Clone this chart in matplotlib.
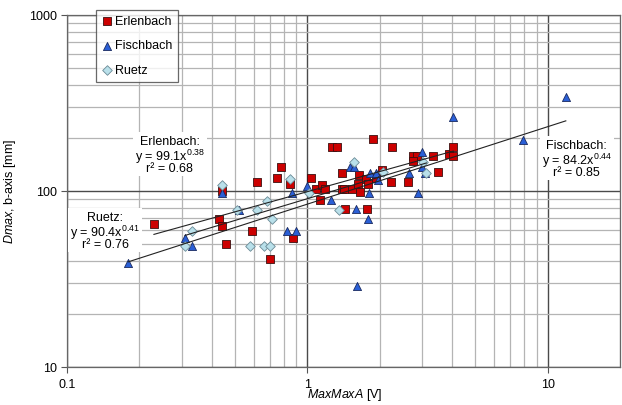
import numpy as np
import matplotlib
matplotlib.use("Agg")
import matplotlib.pyplot as plt
from matplotlib.patches import Rectangle
from matplotlib.ticker import LogLocator, FuncFormatter, NullFormatter
from matplotlib.transforms import offset_copy, IdentityTransform

plt.rcParams['font.family'] = ['Liberation Sans', 'DejaVu Sans']
plt.rcParams['mathtext.fontset'] = 'custom'
plt.rcParams['mathtext.rm'] = 'Liberation Sans'
plt.rcParams['mathtext.it'] = 'Liberation Sans:italic'

# Erlenbach
erl_x = [0.23, 0.43, 0.44, 0.44, 0.46, 0.59, 0.62, 0.70, 0.75, 0.78, 0.85, 0.87,
         1.04, 1.09, 1.15, 1.19, 1.13, 1.27, 1.33, 1.39, 1.39, 1.42, 1.44, 1.54,
         1.62, 1.64, 1.65, 1.75, 1.78, 1.77, 1.88, 1.93, 2.05, 2.22, 2.26, 2.63,
         2.75, 2.87, 2.75, 3.34, 3.49, 3.87, 4.03, 4.05]
erl_y = [65, 69, 63, 100, 50, 59, 113, 41, 118, 137, 109, 54,
         118, 103, 108, 103, 89, 178, 178, 127, 103, 103, 79, 103,
         109, 123, 99, 117, 109, 79, 197, 118, 132, 113, 178, 113,
         158, 158, 148, 158, 128, 162, 178, 158]

# Fischbach
fis_x = [0.18, 0.31, 0.33, 0.44, 0.52, 0.82, 0.90, 0.86, 1.0, 1.25, 1.50, 1.57,
         1.60, 1.61, 1.79, 1.80, 1.83, 1.93, 1.97, 2.65, 2.90, 3.0, 3.0, 3.1,
         4.05, 7.9, 11.9]
fis_y = [39, 54, 49, 97, 78, 59, 59, 97, 107, 89, 137, 137,
         79, 29, 69, 98, 127, 127, 115, 127, 98, 166, 136, 126,
         264, 195, 342]

# Ruetz
rue_x = [0.31, 0.33, 0.44, 0.51, 0.58, 0.62, 0.66, 0.68, 0.70, 0.71, 0.85, 1.02,
         1.36, 1.57, 2.07, 3.04, 3.13]
rue_y = [49, 59, 108, 78, 49, 78, 49, 88, 49, 69, 117, 97,
         78, 147, 128, 147, 127]

# power-law fits y = a * x^b, with r²
fits = {
    'Erlenbach': (99.1, 0.38, 0.68),
    'Fischbach': (84.2, 0.44, 0.85),
    'Ruetz': (90.4, 0.41, 0.76),
}

fig = plt.figure(figsize=(6.22, 4.05), dpi=100)
ax = fig.add_axes([67 / 622, 1 - 367 / 405, (620 - 67) / 622, (367 - 15) / 405])
ax.set_xscale('log')
ax.set_yscale('log')
ax.set_xlim(0.1, 20)
ax.set_ylim(10, 1000)

ax.xaxis.set_minor_locator(LogLocator(base=10, subs=np.arange(2, 10)))
ax.yaxis.set_minor_locator(LogLocator(base=10, subs=np.arange(2, 10)))
ax.xaxis.set_minor_formatter(NullFormatter())
ax.yaxis.set_minor_formatter(NullFormatter())
ax.xaxis.set_major_formatter(FuncFormatter(lambda v, p: '%g' % v))
ax.yaxis.set_major_formatter(FuncFormatter(lambda v, p: '%g' % v))
ax.grid(which='minor', color='#b4b4b4', linewidth=0.9)
ax.grid(which='major', color='#4a4a4a', linewidth=1.0)
ax.set_axisbelow(True)
ax.tick_params(which='major', direction='out', length=4, width=0.8, color='#555555',
               labelsize=9, pad=3)
ax.tick_params(axis='x', which='major', pad=5)
ax.tick_params(which='minor', length=0)
for sp in ax.spines.values():
    sp.set_color('#666666')
    sp.set_linewidth(0.9)

ax.scatter(erl_x, erl_y, marker='s', s=30, c='#cc0000', edgecolors='#3a1010',
           linewidths=0.6, label='Erlenbach', zorder=3)
ax.scatter(fis_x, fis_y, marker='^', s=34, c='#2a5fd6', edgecolors='#1a2a60',
           linewidths=0.6, label='Fischbach', zorder=3)
ax.scatter(rue_x, rue_y, marker='D', s=24, c='#b9e0ea', edgecolors='#6a8a96',
           linewidths=0.6, label='Ruetz', zorder=3)

for name, xs in (('Erlenbach', erl_x), ('Fischbach', fis_x), ('Ruetz', rue_x)):
    a, b, r2 = fits[name]
    xx = np.logspace(np.log10(min(xs)), np.log10(max(xs)), 50)
    ax.plot(xx, a * xx ** b, color='#222222', linewidth=0.8, zorder=4)

# fit labels: three lines stacked around a centre point on a white patch
label_pos = {'Erlenbach': (0.267, 162), 'Fischbach': (13.2, 154), 'Ruetz': (0.144, 60)}
for name, (tx, ty) in label_pos.items():
    a, b, r2 = fits[name]
    lines = ['%s:' % name, 'y = %.1fx$^{%.2f}$' % (a, b), 'r² = %.2f' % r2]
    cx, cy = ax.transData.transform((tx, ty))
    w, h = 74, 44
    ax.add_patch(Rectangle((cx - w / 2, cy - h / 2), w, h, transform=IdentityTransform(),
                           facecolor='white', edgecolor='none', zorder=5))
    for i, line in enumerate(lines):
        tr = offset_copy(ax.transData, fig=fig, x=0, y=(1 - i) * 13.5, units='dots')
        ax.text(tx, ty, line, transform=tr, ha='center', va='center_baseline',
                fontsize=9, color='black', zorder=6)

fig.text(345 / 622, 1 - 395 / 405, r'$\it{MaxMaxA}$ [V]', fontsize=9,
         ha='center', va='center')
ax.set_ylabel(r'$\it{Dmax}$, b-axis [mm]', fontsize=9, labelpad=8)

leg = ax.legend(loc='upper left', bbox_to_anchor=(96 / 622, 1 - 10 / 405),
                bbox_transform=fig.transFigure, borderaxespad=0, fontsize=9,
                frameon=True, fancybox=False, labelspacing=1.0, handletextpad=0.2,
                handlelength=0.9, borderpad=0.45, scatterpoints=1)
leg.get_frame().set_edgecolor('#444444')
leg.get_frame().set_linewidth(0.9)
leg.set_zorder(7)

fig.savefig('out.png', dpi=100)
